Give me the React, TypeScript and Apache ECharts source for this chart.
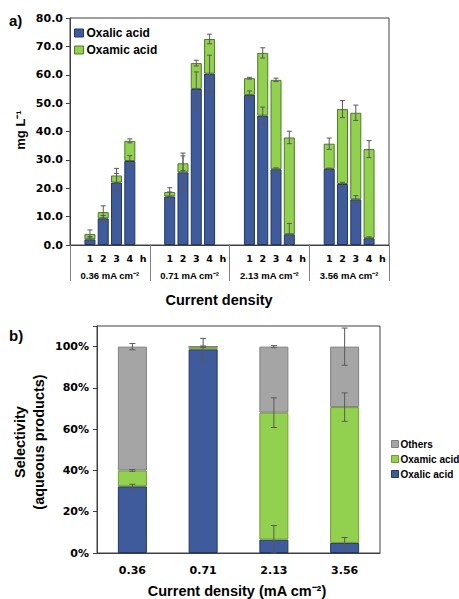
import React, { useEffect, useRef } from "react";
import * as echarts from "echarts";

// ---- Panel a) data (mg L-1) ----
const groupLabels = ["0.36 mA cm⁻²", "0.71 mA cm⁻²", "2.13 mA cm⁻²", "3.56 mA cm⁻²"];
const hourLabels = ["", "1", "2", "3", "4", "h"];
const oxalicMg = [
  [2.0, 9.4, 22.0, 29.6],
  [17.1, 25.6, 55.0, 60.4],
  [52.9, 45.6, 26.7, 3.8],
  [26.8, 21.5, 16.1, 2.4],
];
const oxamicMg = [
  [1.9, 2.2, 2.5, 7.1],
  [1.6, 3.2, 9.1, 12.2],
  [5.9, 22.1, 31.5, 34.1],
  [8.9, 26.4, 30.5, 31.4],
];
const oxalicMgErr = [
  [1.0, 1.0, 3.2, 1.9],
  [1.6, 6.8, 6.0, 6.5],
  [1.4, 3.0, 0.5, 3.8],
  [0.3, 0.6, 1.3, 0.5],
];
const totalMgErr = [
  [1.4, 2.2, 2.5, 0.7],
  [1.5, 2.6, 1.0, 1.7],
  [0.3, 1.8, 0.6, 2.2],
  [2.0, 3.0, 2.7, 3.0],
];

// ---- Panel b) data (selectivity %) ----
const densities = ["0.36", "0.71", "2.13", "3.56"];
const oxalicSel = [32.3, 98.7, 6.5, 4.9];
const oxamicSel = [7.7, 1.3, 61.5, 65.8];
const othersSel = [60.0, 0.0, 32.0, 29.3];
const oxalicSelErr = [1.0, 5.3, 6.8, 2.6];
const oxamicSelErr = [0.4, 0.3, 7.2, 6.9];
const othersSelErr = [1.5, 0, 0.5, 9.0];

const BLUE = "#3F5B9B";
const BLUE_B = "#1F3864";
const GREEN = "#92D050";
const GREEN_B_A = "#4E7A28";
const GREEN_B_B = "#7A9A2A";
const GRAY = "#A5A5A5";
const GRAY_B = "#7F7F7F";
const ERR = "#595959";
const AXIS = "#404040";
const FONT = "Liberation Sans";
const NUMFONT = "DejaVu Sans";

function makeErr(cap: number) {
  return (params: any, api: any) => {
    const x = api.value(0);
    const y = api.value(1);
    const e = api.value(2);
    if (!e) return null;
    const hi = api.coord([x, y + e]);
    const lo = api.coord([x, Math.max(0, y - e)]);
    const style = { stroke: ERR, lineWidth: 1 };
    return {
      type: "group",
      children: [
        { type: "line", shape: { x1: hi[0], y1: hi[1], x2: lo[0], y2: lo[1] }, style },
        { type: "line", shape: { x1: hi[0] - cap, y1: hi[1], x2: hi[0] + cap, y2: hi[1] }, style },
        { type: "line", shape: { x1: lo[0] - cap, y1: lo[1], x2: lo[0] + cap, y2: lo[1] }, style },
      ],
    };
  };
}

export default function App() {
  const ref = useRef<HTMLDivElement>(null);
  useEffect(() => {
    if (!ref.current) return;
    const chart = echarts.init(ref.current, undefined, { renderer: "svg" });

    const slotCats: string[] = [];
    groupLabels.forEach(() => hourLabels.forEach((h) => slotCats.push(h)));
    const oxalicSlots: any[] = slotCats.map(() => "-");
    const oxamicSlots: any[] = slotCats.map(() => "-");
    const errA: any[] = [];
    oxalicMg.forEach((arr, g) =>
      arr.forEach((v, h) => {
        const idx = g * 6 + h + 1;
        oxalicSlots[idx] = v;
        oxamicSlots[idx] = oxamicMg[g][h];
        errA.push([idx, v, oxalicMgErr[g][h]]);
        errA.push([idx, v + oxamicMg[g][h], totalMgErr[g][h]]);
      })
    );
    const errB: any[] = [];
    densities.forEach((_, i) => {
      errB.push([i, oxalicSel[i], oxalicSelErr[i]]);
      errB.push([i, oxalicSel[i] + oxamicSel[i], oxamicSelErr[i]]);
      errB.push([i, oxalicSel[i] + oxamicSel[i] + othersSel[i], othersSelErr[i]]);
    });

    const option: any = {
      animation: false,
      backgroundColor: "#ffffff",
      grid: [
        { left: 70, top: 18, width: 319, height: 227, show: true, borderColor: AXIS, borderWidth: 1, backgroundColor: "transparent" },
        { left: 97, top: 326, width: 283, height: 227, show: true, borderColor: AXIS, borderWidth: 1, backgroundColor: "transparent" },
      ],
      xAxis: [
        {
          type: "category", gridIndex: 0, data: slotCats,
          axisLine: { lineStyle: { color: AXIS, width: 1 } },
          axisTick: { show: false },
          axisLabel: { interval: 0, margin: 8, color: "#000", fontFamily: NUMFONT, fontWeight: "bold", fontSize: 9.5 },
        },
        {
          type: "category", gridIndex: 0, data: groupLabels, position: "bottom",
          axisLine: { show: false },
          axisTick: { show: true, length: 36, lineStyle: { color: "#7f7f7f", width: 1 } },
          axisLabel: { interval: 0, margin: 25, color: "#000", fontFamily: FONT, fontWeight: "bold", fontSize: 9.5 },
        },
        {
          type: "category", gridIndex: 1, data: densities,
          axisLine: { lineStyle: { color: AXIS, width: 1 } },
          axisTick: { show: false },
          axisLabel: { interval: 0, margin: 12, color: "#000", fontFamily: NUMFONT, fontWeight: "bold", fontSize: 11 },
        },
      ],
      yAxis: [
        {
          type: "value", gridIndex: 0, min: 0, max: 80, interval: 10,
          axisLine: { show: true, lineStyle: { color: AXIS } },
          axisTick: { show: true, length: 4, lineStyle: { color: AXIS } },
          splitLine: { show: false },
          axisLabel: { margin: 7, color: "#000", fontFamily: NUMFONT, fontWeight: "bold", fontSize: 11, formatter: (v: number) => v.toFixed(1) },
        },
        {
          type: "value", gridIndex: 1, min: 0, max: 110, interval: 20,
          axisLine: { show: true, lineStyle: { color: AXIS } },
          axisTick: { show: true, length: 4, lineStyle: { color: AXIS } },
          splitLine: { show: false },
          axisLabel: { margin: 8, color: "#000", fontFamily: NUMFONT, fontWeight: "bold", fontSize: 11, formatter: (v: number) => (v > 100 ? "" : v + "%") },
        },
      ],
      legend: [
        {
          data: [
            { name: "Oxalic acid", icon: "rect" },
            { name: "Oxamic acid", icon: "rect" },
          ],
          icon: "rect",
          orient: "vertical", left: 74, top: 27,
          itemWidth: 9, itemHeight: 8, itemGap: 5, padding: 0, selectedMode: false,
          itemStyle: { borderWidth: 1 },
          textStyle: { fontFamily: FONT, fontWeight: "bold", fontSize: 12, color: "#000", padding: [0, 0, 0, -2] },
        },
        {
          data: [
            { name: "Others", icon: "rect" },
            { name: "Oxamic acid", icon: "rect", itemStyle: { color: GREEN, borderColor: GREEN_B_B, borderWidth: 1 } },
            { name: "Oxalic acid", icon: "rect" },
          ],
          icon: "rect",
          orient: "vertical", left: 391, top: 439,
          itemWidth: 7, itemHeight: 7, itemGap: 5, padding: 0, selectedMode: false,
          itemStyle: { borderWidth: 1 },
          textStyle: { fontFamily: FONT, fontWeight: "bold", fontSize: 10, color: "#000", padding: [0, 0, 0, -3] },
        },
      ],
      series: [
        {
          name: "Oxalic acid", type: "bar", xAxisIndex: 0, yAxisIndex: 0, stack: "a", barWidth: 11,
          data: oxalicSlots, itemStyle: { color: BLUE, borderColor: BLUE_B, borderWidth: 1 },
        },
        {
          name: "Oxamic acid", type: "bar", xAxisIndex: 0, yAxisIndex: 0, stack: "a", barWidth: 11,
          data: oxamicSlots, itemStyle: { color: GREEN, borderColor: GREEN_B_A, borderWidth: 1 },
        },
        {
          name: "errA", type: "custom", xAxisIndex: 0, yAxisIndex: 0, z: 5,
          renderItem: makeErr(2.5), data: errA, encode: { x: 0, y: 1 },
        },
        {
          name: "Oxalic acid", type: "bar", xAxisIndex: 2, yAxisIndex: 1, stack: "b", barWidth: 29,
          data: oxalicSel, itemStyle: { color: BLUE, borderColor: BLUE_B, borderWidth: 1 },
        },
        {
          name: "Oxamic acid", type: "bar", xAxisIndex: 2, yAxisIndex: 1, stack: "b", barWidth: 29,
          data: oxamicSel, itemStyle: { color: GREEN, borderColor: GREEN_B_B, borderWidth: 1 },
        },
        {
          name: "Others", type: "bar", xAxisIndex: 2, yAxisIndex: 1, stack: "b", barWidth: 29,
          data: othersSel, itemStyle: { color: GRAY, borderColor: GRAY_B, borderWidth: 1 },
        },
        {
          name: "errB", type: "custom", xAxisIndex: 2, yAxisIndex: 1, z: 5,
          renderItem: makeErr(3), data: errB, encode: { x: 0, y: 1 },
        },
      ],
      graphic: [
        { type: "text", x: 9, y: 20, style: { text: "a)", font: `bold 15px ${FONT}`, fill: "#000", align: "left", verticalAlign: "middle" } },
        { type: "text", x: 9, y: 335, style: { text: "b)", font: `bold 15px ${FONT}`, fill: "#000", align: "left", verticalAlign: "middle" } },
        { type: "text", x: 20, y: 130, rotation: Math.PI / 2, style: { text: "mg L⁻¹", font: `bold 13px ${FONT}`, fill: "#000", align: "center", verticalAlign: "middle" } },
        { type: "text", x: 29, y: 442, rotation: Math.PI / 2, style: { text: "Selectivity\n(aqueous products)", font: `bold 14.5px ${FONT}`, lineHeight: 19, fill: "#000", align: "center", verticalAlign: "middle" } },
        { type: "text", x: 219, y: 300, style: { text: "Current density", font: `bold 14.5px ${FONT}`, fill: "#000", align: "center", verticalAlign: "middle" } },
        { type: "text", x: 237, y: 591, style: { text: "Current density (mA cm⁻²)", font: `bold 14.5px ${FONT}`, fill: "#000", align: "center", verticalAlign: "middle" } },
      ],
    };
    chart.setOption(option);
    return () => chart.dispose();
  }, []);
  return <div ref={ref} style={{ position: "fixed", left: 0, top: 0, width: 459, height: 599 }} />;
}
